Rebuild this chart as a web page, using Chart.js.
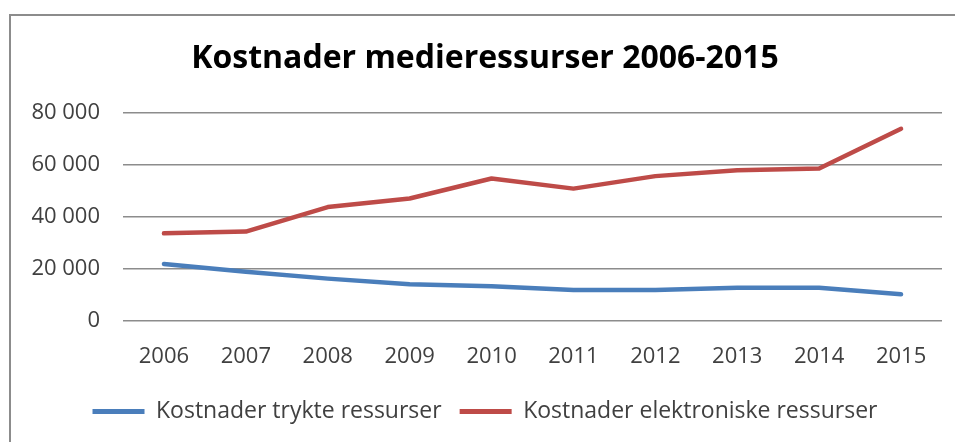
<!DOCTYPE html>
<html>
<head>
<meta charset="utf-8">
<script src="https://cdn.jsdelivr.net/npm/chart.js@4/dist/chart.umd.min.js"></script>
<style>
  html, body { margin: 0; padding: 0; background: #ffffff; }
  #wrap { position: relative; width: 955px; height: 442px; overflow: hidden; }
  #frame { position: absolute; left: 9px; top: 14px; width: 1000px; height: 500px;
           border-left: 2px solid #8c8c8c; border-top: 2px solid #8c8c8c; }
  canvas { position: absolute; left: 0; top: 0; }
</style>
</head>
<body>
<div id="wrap">
  <div id="frame"></div>
  <canvas id="c" width="955" height="442"></canvas>
</div>
<script>
const chartTitle = "Kostnader medieressurser 2006-2015";
const years = ["2006", "2007", "2008", "2009", "2010", "2011", "2012", "2013", "2014", "2015"];
const seriesNames = ["Kostnader trykte ressurser", "Kostnader elektroniske ressurser"];
const printedCosts = [21700, 18700, 16100, 13900, 13150, 11700, 11700, 12600, 12600, 10100];
const electronicCosts = [33500, 34200, 43600, 46900, 54600, 50700, 55500, 57800, 58400, 73700];
const seriesColors = ["#4a7ebb", "#be4b48"];
const yMin = 0, yMax = 80000, yStep = 20000;

function formatThousands(v) {
  return String(v).replace(/\B(?=(\d{3})+(?!\d))/g, " ");
}

const ctx = document.getElementById("c").getContext("2d");
new Chart(ctx, {
  type: "line",
  data: {
    labels: years,
    datasets: [
      { label: seriesNames[0], data: printedCosts, borderColor: seriesColors[0], backgroundColor: seriesColors[0],
        borderWidth: 4.5, pointRadius: 0, pointHoverRadius: 0, tension: 0, borderCapStyle: "round", borderJoinStyle: "round" },
      { label: seriesNames[1], data: electronicCosts, borderColor: seriesColors[1], backgroundColor: seriesColors[1],
        borderWidth: 4.5, pointRadius: 0, pointHoverRadius: 0, tension: 0, borderCapStyle: "round", borderJoinStyle: "round" }
    ]
  },
  options: {
    responsive: false,
    animation: false,
    events: [],
    layout: { padding: { left: 28, right: 13, top: 0, bottom: 9 } },
    plugins: {
      tooltip: { enabled: false },
      title: {
        display: true,
        text: chartTitle,
        color: "#000000",
        font: { family: "'Open Sans'", size: 32, weight: "bold", lineHeight: 1.2 },
        padding: { top: 40, bottom: 34 }
      },
      legend: {
        display: true,
        position: "bottom",
        labels: {
          color: "#404040",
          font: { family: "'Open Sans'", size: 23, lineHeight: 1.2 },
          boxWidth: 52,
          boxHeight: 5,
          padding: 18,
          generateLabels: function (chart) {
            const items = Chart.defaults.plugins.legend.labels.generateLabels(chart);
            items.forEach(function (it, i) {
              it.fillStyle = seriesColors[i];
              it.strokeStyle = seriesColors[i];
              it.lineWidth = 0;
            });
            return items;
          }
        }
      }
    },
    scales: {
      x: {
        offset: true,
        grid: { display: false, drawTicks: false },
        border: { display: false },
        ticks: { color: "#404040", font: { family: "'Open Sans'", size: 22 }, padding: 23, maxRotation: 0 },
        afterFit: function (s) { s.height = 61.5; }
      },
      y: {
        min: yMin,
        max: yMax,
        grid: { color: "#8c8c8c", lineWidth: 1.5, drawTicks: false },
        border: { display: false },
        ticks: {
          stepSize: yStep,
          color: "#404040",
          font: { family: "'Open Sans'", size: 22 },
          padding: 23,
          callback: function (v) { return formatThousands(v); }
        },
        afterFit: function (s) { s.width = 95; }
      }
    }
  }
});
</script>
</body>
</html>
